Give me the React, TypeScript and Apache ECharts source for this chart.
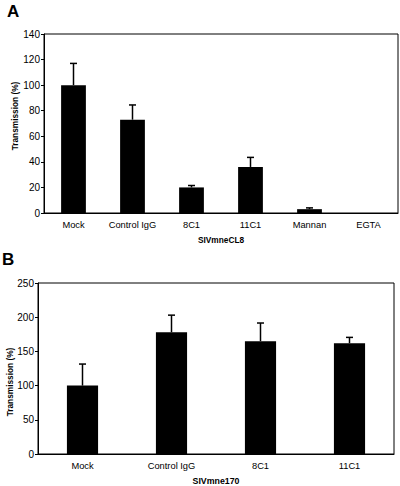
import React, { useEffect, useRef } from "react";
import * as echarts from "echarts";

const categoriesA = ["Mock", "Control IgG", "8C1", "11C1", "Mannan", "EGTA"];
const valuesA = [100, 73, 20, 36, 3, 0];
const errorsA = [17, 11.5, 1.5, 7.5, 1, 0];
const yTicksA = { min: 0, max: 140, interval: 20 };

const categoriesB = ["Mock", "Control IgG", "8C1", "11C1"];
const valuesB = [100, 178, 165, 162];
const errorsB = [31.5, 25, 26.5, 8.5];
const yTicksB = { min: 0, max: 250, interval: 50 };

const FONT = "'Liberation Sans', Arial, Helvetica, sans-serif";

const errRender = (params: any, api: any) => {
  const i = api.value(0);
  const v = api.value(1);
  const e = api.value(2);
  if (!e) return null;
  const top = api.coord([i, v + e]);
  const base = api.coord([i, v]);
  return {
    type: "group",
    children: [
      {
        type: "line",
        shape: { x1: top[0], y1: top[1], x2: base[0], y2: base[1] },
        style: { stroke: "#000", lineWidth: 1.5 },
      },
      {
        type: "line",
        shape: { x1: top[0] - 3.5, y1: top[1], x2: top[0] + 3.5, y2: top[1] },
        style: { stroke: "#000", lineWidth: 1.5 },
      },
    ],
  };
};

const yAxisCommon = (t: any, gridIndex: number) => ({
  type: "value",
  gridIndex,
  min: t.min,
  max: t.max,
  interval: t.interval,
  splitLine: { show: false },
  axisLine: { show: true, lineStyle: { color: "#000", width: 1 } },
  axisTick: { show: true, length: 3, lineStyle: { color: "#000" } },
  axisLabel: { color: "#000", fontSize: 10, fontFamily: FONT, margin: 4 },
});

const xAxisCommon = (cats: string[], gridIndex: number, name: string, gap: number, nameSize: number) => ({
  type: "category",
  gridIndex,
  data: cats,
  name,
  nameLocation: "middle",
  nameGap: gap,
  nameTextStyle: { color: "#000", fontSize: nameSize, fontWeight: "bold", fontFamily: FONT },
  axisLine: { show: true, lineStyle: { color: "#000", width: 1 } },
  axisTick: { show: false },
  axisLabel: { color: "#000", fontSize: 9.3, fontFamily: FONT, margin: 7, interval: 0 },
});

export default function App() {
  const ref = useRef<HTMLDivElement>(null);
  useEffect(() => {
    if (!ref.current) return;
    const chart = echarts.init(ref.current, null, { renderer: "svg" });
    chart.setOption({
      animation: false,
      backgroundColor: "#fff",
      grid: [
        { left: 44, top: 34, right: 2, bottom: 273, show: true, borderColor: "#000", borderWidth: 1, backgroundColor: "transparent" },
        { left: 38, top: 283, right: 6, bottom: 29, show: true, borderColor: "#000", borderWidth: 1, backgroundColor: "transparent" },
      ],
      xAxis: [
        xAxisCommon(categoriesA, 0, "SIVmneCL8", 23, 8.3),
        xAxisCommon(categoriesB, 1, "SIVmne170", 22, 8.8),
      ],
      yAxis: [yAxisCommon(yTicksA, 0), yAxisCommon(yTicksB, 1)],
      graphic: [
        { type: "text", left: 7, top: 3, style: { text: "A", fontSize: 17, fontWeight: "bold", fontFamily: FONT, fill: "#000" } },
        { type: "text", left: 2, top: 251, style: { text: "B", fontSize: 17, fontWeight: "bold", fontFamily: FONT, fill: "#000" } },
        {
          type: "text", x: 15, y: 116, rotation: Math.PI / 2,
          style: { text: "Transmission (%)", fontSize: 8.3, fontWeight: "bold", fontFamily: FONT, fill: "#000", align: "center", verticalAlign: "middle" },
        },
        {
          type: "text", x: 10, y: 382, rotation: Math.PI / 2,
          style: { text: "Transmission (%)", fontSize: 8.3, fontWeight: "bold", fontFamily: FONT, fill: "#000", align: "center", verticalAlign: "middle" },
        },
      ],
      series: [
        { type: "bar", xAxisIndex: 0, yAxisIndex: 0, data: valuesA, barWidth: "42%", itemStyle: { color: "#000" } },
        {
          type: "custom", xAxisIndex: 0, yAxisIndex: 0, z: 5,
          data: categoriesA.map((_, i) => [i, valuesA[i], errorsA[i]]),
          encode: { x: 0, y: 1 },
          renderItem: errRender,
        },
        { type: "bar", xAxisIndex: 1, yAxisIndex: 1, data: valuesB, barWidth: "35%", itemStyle: { color: "#000" } },
        {
          type: "custom", xAxisIndex: 1, yAxisIndex: 1, z: 5,
          data: categoriesB.map((_, i) => [i, valuesB[i], errorsB[i]]),
          encode: { x: 0, y: 1 },
          renderItem: errRender,
        },
      ],
    });
    return () => chart.dispose();
  }, []);
  return (
    <div
      ref={ref}
      style={{ position: "fixed", left: 0, top: 0, width: 400, height: 486, background: "#fff" }}
    />
  );
}
